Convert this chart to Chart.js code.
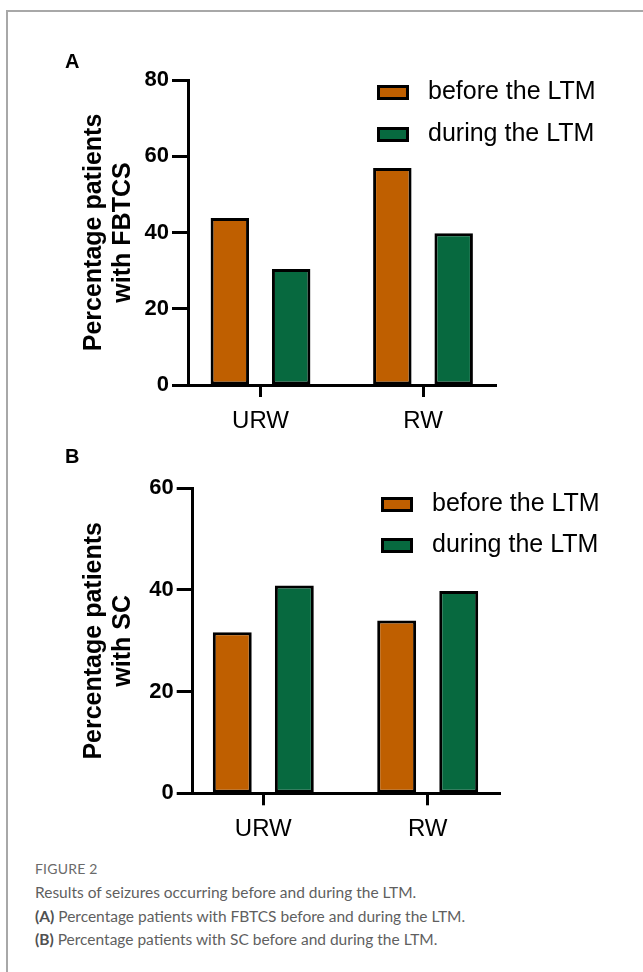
<!DOCTYPE html>
<html>
<head>
<meta charset="utf-8">
<script src="https://cdn.jsdelivr.net/npm/chart.js@4/dist/chart.umd.min.js"></script>
<style>
  html, body { margin: 0; padding: 0; background: #fff; }
  body { width: 643px; height: 972px; position: relative; overflow: hidden; font-family: "Liberation Sans", Arial, sans-serif; }
  .frame { position: absolute; left: 6px; top: 10px; width: 700px; height: 1000px; border-top: 2px solid #a8a8a8; border-left: 2px solid #a8a8a8; }
  canvas { position: absolute; left: 0; }
  .panel { position: absolute; font-family: "Liberation Sans", Arial, sans-serif; font-weight: bold; font-size: 20px; color: #000; z-index: 2; line-height: 1; }
  .cap { position: absolute; left: 35px; font-family: Lato, "Open Sans", sans-serif; color: #5f5f5f; white-space: nowrap; line-height: 1.2; }
  .cap b { font-weight: 700; color: #505050; }
</style>
</head>
<body>
<div class="frame"></div>
<canvas id="chartA" width="643" height="450" style="top:0px"></canvas>
<canvas id="chartB" width="643" height="400" style="top:450px"></canvas>
<div class="panel" style="left:65px; top:51px;">A</div>
<div class="panel" style="left:65px; top:446px;">B</div>
<div class="cap" style="top:861px; font-size:14px; letter-spacing:0.2px; color:#6a6a6a;">FIGURE 2</div>
<div class="cap" style="top:883px; font-size:15.5px;">Results of seizures occurring before and during the LTM.</div>
<div class="cap" style="top:907px; font-size:15.5px;"><b>(A)</b> Percentage patients with FBTCS before and during the LTM.</div>
<div class="cap" style="top:930px; font-size:15.5px;"><b>(B)</b> Percentage patients with SC before and during the LTM.</div>
<script>
const categories = ['URW', 'RW'];
const seriesNames = ['before the LTM', 'during the LTM'];
const fbtcsBefore = [43.8, 56.9];
const fbtcsDuring = [30.4, 39.8];
const scBefore = [31.7, 34.0];
const scDuring = [40.9, 39.8];
const yTitleA = ['Percentage patients', 'with FBTCS'];
const yTitleB = ['Percentage patients', 'with SC'];
const yMaxA = 80;
const yMaxB = 60;
const yStep = 20;

const COLORS = ['#BF5F00', '#07693F'];
const FONT = '"Liberation Sans", Arial, sans-serif';
Chart.defaults.font.family = FONT;
Chart.defaults.color = '#000';

const boxLegend = {
  id: 'boxLegend',
  afterDraw(chart, args, opts) {
    const ctx = chart.ctx;
    ctx.save();
    chart.data.datasets.forEach((ds, i) => {
      const y = opts.y + i * opts.rowGap;
      ctx.fillStyle = ds.backgroundColor;
      ctx.fillRect(opts.x, y, 32, 15);
      ctx.lineWidth = 3;
      ctx.strokeStyle = '#000';
      ctx.strokeRect(opts.x + 1.5, y + 1.5, 29, 12);
      ctx.fillStyle = '#000';
      ctx.font = '25px ' + FONT;
      ctx.textBaseline = 'middle';
      ctx.textAlign = 'left';
      ctx.fillText(ds.label, opts.x + 51, y + 7.5);
    });
    ctx.restore();
  }
};

function makeChart(id, before, during, title, yMax, cfg) {
  const labels = categories.map((c, i) => i);
  return new Chart(document.getElementById(id), {
    type: 'bar',
    data: {
      labels: labels,
      datasets: [before, during].map((vals, i) => ({
        label: seriesNames[i],
        data: vals,
        backgroundColor: COLORS[i],
        borderColor: '#000',
        borderWidth: 3,
        borderSkipped: false,
        categoryPercentage: 0.755,
        barPercentage: 0.627
      }))
    },
    options: {
      responsive: false,
      animation: false,
      devicePixelRatio: 1,
      layout: { padding: cfg.padding },
      plugins: {
        legend: { display: false },
        tooltip: { enabled: false },
        boxLegend: cfg.legend
      },
      scales: {
        x: {
          type: 'linear',
          offset: false,
          min: cfg.xMin,
          max: cfg.xMax,
          grid: { offset: false, drawOnChartArea: false, drawTicks: true, tickLength: 12, tickWidth: 3, tickColor: '#000' },
          border: { display: true, color: '#000', width: 3 },
          ticks: {
            stepSize: 1,
            includeBounds: false,
            autoSkip: false,
            maxRotation: 0,
            padding: 10,
            font: { size: 24 },
            color: '#000',
            callback: (v) => (categories[v] !== undefined ? categories[v] : '')
          },
          afterFit: (s) => { s.height = 50; }
        },
        y: {
          min: 0,
          max: yMax,
          grid: { drawOnChartArea: false, drawTicks: true, tickLength: 16, tickWidth: 3, tickColor: '#000' },
          border: { display: true, color: '#000', width: 3 },
          ticks: { stepSize: yStep, padding: 3, font: { size: 22, weight: 'bold' }, color: '#000' },
          title: {
            display: true,
            text: title,
            font: { size: 25, weight: 'bold', lineHeight: 1.15 },
            color: '#000',
            padding: { top: 20, bottom: 0 }
          },
          afterFit: (s) => { s.width = cfg.yWidth; }
        }
      }
    },
    plugins: [boxLegend]
  });
}

makeChart('chartA', fbtcsBefore, fbtcsDuring, yTitleA, yMaxA, {
  padding: { left: 60, top: 80, right: 147, bottom: 15 },
  yWidth: 128,
  xMin: -0.4462, xMax: 1.4492,
  legend: { x: 377, y: 85, rowGap: 42 }
});
makeChart('chartB', scBefore, scDuring, yTitleB, yMaxB, {
  padding: { left: 60, top: 38.3, right: 143, bottom: 6.7 },
  yWidth: 132.7,
  xMin: -0.4294, xMax: 1.4398,
  legend: { x: 381, y: 47, rowGap: 41 }
});
</script>
</body>
</html>
